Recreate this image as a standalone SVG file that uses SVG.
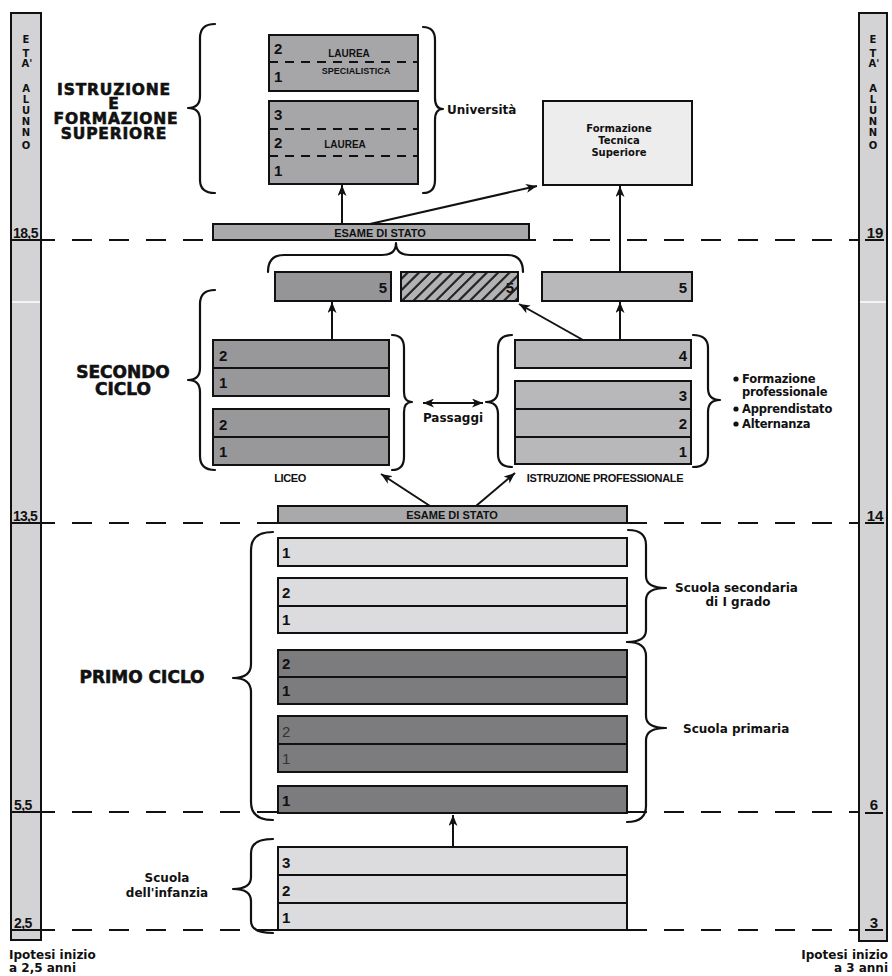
<svg xmlns="http://www.w3.org/2000/svg" width="892" height="976" viewBox="0 0 892 976">
<defs>
<style>
.ax{fill:#d3d3d5;stroke:#111;stroke-width:2}
.bx{stroke:#111;stroke-width:2}
.dv{stroke:#111;stroke-width:2;fill:none}
.dd{stroke:#111;stroke-width:2;stroke-dasharray:9 7;fill:none}
.dash{stroke:#111;stroke-width:2;stroke-dasharray:20 17;stroke-dashoffset:6;fill:none}
.br{fill:none;stroke:#111;stroke-width:2.2;stroke-linecap:round;stroke-linejoin:round}
.ar{stroke:#111;stroke-width:2;fill:none}
.t{font-family:"DejaVu Sans",sans-serif;font-weight:bold;fill:#111}
.c{font-family:"Liberation Sans",Arial,sans-serif;font-weight:bold;fill:#111}
.n{font-family:"Liberation Sans",Arial,sans-serif;font-weight:bold;font-size:15px;fill:#111}
.h{font-family:"DejaVu Sans",sans-serif;font-weight:bold;font-size:17px;fill:#111;stroke:#111;stroke-width:0.6;text-anchor:middle}
.hs{font-family:"DejaVu Sans",sans-serif;font-weight:bold;font-size:15.5px;fill:#111;stroke:#111;stroke-width:0.6;text-anchor:middle;letter-spacing:0.8px}
.v{font-family:"DejaVu Sans",sans-serif;font-weight:bold;font-size:10px;fill:#111;text-anchor:middle}
.m{text-anchor:middle}
.e{text-anchor:end}
.laurea{fill:#a6a6a8}
.fts{fill:#ededee}
.esame{fill:#a9a9ab}
.liceo{fill:#98989b}
.prof{fill:#b8b8ba}
.light{fill:#dcdcde}
.dark{fill:#7c7c7f}
</style>
<marker id="ah" viewBox="0 0 11 9" refX="11" refY="4.5" markerWidth="11" markerHeight="9" markerUnits="userSpaceOnUse" orient="auto-start-reverse"><path d="M0,0 L11,4.5 L0,9 L3,4.5 z" fill="#111"/></marker>
<pattern id="hatch" patternUnits="userSpaceOnUse" width="8" height="8" patternTransform="rotate(45)"><rect width="8" height="8" fill="#b2b2b4"/><line x1="1" y1="0" x2="1" y2="8" stroke="#222" stroke-width="1.8"/></pattern>
<pattern id="hatchL" patternUnits="userSpaceOnUse" width="8" height="8" patternTransform="rotate(45)"><line x1="1" y1="0" x2="1" y2="8" stroke="#222" stroke-width="1.8"/></pattern>
</defs>
<rect width="892" height="976" fill="#fff"/>

<g id="age-lines">
<path class="dash" d="M41,240 H859"/>
<path class="dash" d="M41,523 H859"/>
<path class="dash" d="M41,812 H859"/>
<path class="dash" d="M41,930 H859"/>
</g>

<g id="axis-left">
<rect class="ax" x="11" y="13" width="30" height="927"/>
<line x1="12" y1="302" x2="40" y2="302" stroke="#fff" stroke-width="1.5"/>
<text class="v" x="26" y="43">E</text>
<text class="v" x="26" y="57">T</text>
<text class="v" x="27" y="67">A'</text>
<text class="v" x="26" y="92">A</text>
<text class="v" x="26" y="103">L</text>
<text class="v" x="26" y="114">U</text>
<text class="v" x="26" y="125">N</text>
<text class="v" x="26" y="136">N</text>
<text class="v" x="26" y="149">O</text>
<text class="c" x="13" y="238" font-size="14" letter-spacing="-0.6">18,5</text>
<text class="c" x="13" y="521" font-size="14" letter-spacing="-0.8">13,5</text>
<text class="c" x="14" y="810" font-size="14" letter-spacing="-0.6">5,5</text>
<text class="c" x="14" y="928" font-size="14" letter-spacing="-0.6">2,5</text>
<path class="dv" d="M12,240 H40 M12,523 H40 M12,812 H40 M12,930 H40"/>
<text class="t" x="9" y="959" font-size="12">Ipotesi inizio</text>
<text class="t" x="9" y="972" font-size="12">a 2,5 anni</text>
</g>

<g id="axis-right">
<rect class="ax" x="859" y="13" width="28" height="928"/>
<line x1="860" y1="302" x2="886" y2="302" stroke="#fff" stroke-width="1.5"/>
<text class="v" x="873" y="43">E</text>
<text class="v" x="873" y="57">T</text>
<text class="v" x="874" y="67">A'</text>
<text class="v" x="873" y="92">A</text>
<text class="v" x="873" y="103">L</text>
<text class="v" x="873" y="114">U</text>
<text class="v" x="873" y="125">N</text>
<text class="v" x="873" y="136">N</text>
<text class="v" x="873" y="149">O</text>
<text class="c m" x="875" y="238" font-size="15">19</text>
<text class="c m" x="875" y="521" font-size="15">14</text>
<text class="c m" x="874" y="810" font-size="15">6</text>
<text class="c m" x="874" y="928" font-size="15">3</text>
<path class="dv" d="M865,240 H884 M865,523 H884 M865,813 H883 M865,930 H883"/>
<text class="t e" x="888" y="959" font-size="12">Ipotesi inizio</text>
<text class="t e" x="888" y="972" font-size="12">a 3 anni</text>
</g>

<g id="istruzione-superiore">
<text class="hs" x="114" y="95">ISTRUZIONE</text>
<text class="hs" x="114" y="109">E</text>
<text class="hs" x="116" y="124">FORMAZIONE</text>
<text class="hs" x="114" y="139">SUPERIORE</text>
<path class="br" d="M215,24 Q200,24 200,38 L200,96 Q200,108 188,108 Q200,108 200,120 L200,180 Q200,193 215,193"/>
</g>

<g id="laurea-specialistica">
<rect class="bx laurea" x="269" y="35" width="149" height="56"/>
<path class="dd" d="M269,62 H418"/>
<text class="n" x="274" y="54" font-size="14">2</text>
<text class="n" x="274" y="82" font-size="14">1</text>
<text class="c m" x="349" y="57" font-size="10">LAUREA</text>
<text class="c m" x="356" y="74" font-size="9">SPECIALISTICA</text>
</g>

<g id="laurea">
<rect class="bx laurea" x="269" y="101" width="149" height="83"/>
<path class="dd" d="M269,129 H418 M269,156 H418"/>
<text class="n" x="274" y="120" font-size="14">3</text>
<text class="n" x="274" y="148" font-size="14">2</text>
<text class="n" x="274" y="176" font-size="14">1</text>
<text class="c m" x="345" y="148" font-size="10">LAUREA</text>
</g>

<g id="universita">
<path class="br" d="M423,27 Q435,27 435,40 L435,98 Q435,109 443,109 Q435,109 435,120 L435,180 Q435,193 423,193"/>
<text class="t" x="447" y="114" font-size="12">Università</text>
</g>

<g id="formazione-tecnica-superiore">
<rect class="bx fts" x="543" y="101" width="149" height="84"/>
<text class="t m" x="619" y="132" font-size="10">Formazione</text>
<text class="t m" x="619" y="144" font-size="10">Tecnica</text>
<text class="t m" x="619" y="156" font-size="10">Superiore</text>
</g>

<g id="esame-stato-2">
<rect class="bx esame" x="213" y="224" width="316" height="16"/>
<text class="c m" x="380" y="237" font-size="11">ESAME DI STATO</text>
<path class="br" d="M268,272 Q268,255 284,255 L382,255 Q396,255 396,243 Q396,255 410,255 L507,255 Q523,255 523,272"/>
</g>

<g id="anno5-liceo">
<rect class="bx" fill="#959598" x="275" y="272" width="116" height="29"/>
<text class="n e" x="387" y="293">5</text>
</g>

<g id="anno5-hatched">
<rect class="bx" fill="url(#hatch)" x="401" y="272" width="117" height="29"/>
<text class="n e" x="514" y="293" fill="#222">5</text>
<rect x="402" y="273" width="115" height="27" fill="url(#hatchL)" opacity="0.8"/>
</g>

<g id="anno5-prof">
<rect class="bx prof" x="542" y="272" width="150" height="29"/>
<text class="n e" x="687" y="293">5</text>
</g>

<g id="secondo-ciclo">
<text class="h" x="123" y="378">SECONDO</text>
<text class="h" x="123" y="395">CICLO</text>
<path class="br" d="M215,290 Q200,290 200,304 L200,368 Q200,380 188,380 Q200,380 200,392 L200,456 Q200,470 215,470"/>
</g>

<g id="liceo">
<rect class="bx liceo" x="213" y="340" width="176" height="56"/>
<path class="dv" d="M213,368 H389"/>
<rect class="bx liceo" x="213" y="409" width="176" height="56"/>
<path class="dv" d="M213,437 H389"/>
<text class="n" x="219" y="361">2</text>
<text class="n" x="219" y="388">1</text>
<text class="n" x="219" y="430">2</text>
<text class="n" x="219" y="457">1</text>
<path class="br" d="M392,335 Q404,335 404,348 L404,392 Q404,402 412,402 Q404,402 404,412 L404,457 Q404,470 392,470"/>
<text class="c m" x="290" y="482" font-size="11" letter-spacing="-0.4">LICEO</text>
</g>

<g id="passaggi">
<text class="t m" x="453" y="422" font-size="12">Passaggi</text>
</g>

<g id="istruzione-professionale">
<rect class="bx prof" x="515" y="340" width="176" height="28"/>
<rect class="bx prof" x="515" y="381" width="176" height="83"/>
<path class="dv" d="M515,409 H691 M515,437 H691"/>
<text class="n e" x="687" y="361">4</text>
<text class="n e" x="687" y="401">3</text>
<text class="n e" x="687" y="429">2</text>
<text class="n e" x="687" y="457">1</text>
<path class="br" d="M512,335 Q498,335 498,348 L498,390 Q498,402 486,402 Q498,402 498,414 L498,454 Q498,467 512,467"/>
<path class="br" d="M693,335 Q708,335 708,348 L708,388 Q708,400 720,400 Q708,400 708,412 L708,454 Q708,467 693,467"/>
<text class="c m" x="605" y="482" font-size="11" letter-spacing="-0.3">ISTRUZIONE PROFESSIONALE</text>
<circle cx="736" cy="379" r="2.6" fill="#111"/>
<circle cx="736" cy="409" r="2.6" fill="#111"/>
<circle cx="736" cy="424" r="2.6" fill="#111"/>
<text class="t" x="742" y="383" font-size="11.5" letter-spacing="-0.2">Formazione</text>
<text class="t" x="742" y="396" font-size="11.5" letter-spacing="-0.2">professionale</text>
<text class="t" x="742" y="413" font-size="11.5" letter-spacing="-0.2">Apprendistato</text>
<text class="t" x="742" y="428" font-size="11.5" letter-spacing="-0.2">Alternanza</text>
</g>

<g id="esame-stato-1">
<rect class="bx esame" x="278" y="506" width="349" height="17"/>
<text class="c m" x="452" y="519" font-size="11">ESAME DI STATO</text>
</g>

<g id="primo-ciclo">
<text class="h" x="142" y="683">PRIMO CICLO</text>
<path class="br" d="M273,532 Q251,532 251,550 L251,664 Q251,678 233,678 Q251,678 251,692 L251,802 Q251,820 273,820"/>
</g>

<g id="scuola-secondaria-1-grado">
<rect class="bx light" x="278" y="538" width="349" height="28"/>
<rect class="bx light" x="278" y="578" width="349" height="55"/>
<path class="dv" d="M278,606 H627"/>
<text class="n" x="282" y="558">1</text>
<text class="n" x="282" y="598">2</text>
<text class="n" x="282" y="625">1</text>
<path class="br" d="M628,530 Q646,530 646,545 L646,576 Q646,588 666,588 Q646,588 646,600 L646,630 Q646,642 627,642"/>
<text class="t" x="675" y="592" font-size="12">Scuola secondaria</text>
<text class="t m" x="738" y="606" font-size="12">di I grado</text>
</g>

<g id="scuola-primaria">
<rect class="bx dark" x="278" y="650" width="349" height="54"/>
<path class="dv" d="M278,677 H627"/>
<rect class="bx dark" x="278" y="716" width="349" height="56"/>
<path class="dv" d="M278,744 H627"/>
<rect class="bx dark" x="278" y="786" width="349" height="27"/>
<text class="n" x="282" y="669">2</text>
<text class="n" x="282" y="696">1</text>
<text x="282" y="737" font-family="Liberation Sans, Arial, sans-serif" font-size="15" fill="#333">2</text>
<text x="282" y="764" font-family="Liberation Sans, Arial, sans-serif" font-size="15" fill="#333">1</text>
<text class="n" x="282" y="806">1</text>
<path class="br" d="M627,642 Q646,642 646,656 L646,716 Q646,728 666,728 Q646,728 646,740 L646,806 Q646,822 627,822"/>
<text class="t" x="683" y="733" font-size="12">Scuola primaria</text>
</g>

<g id="scuola-infanzia">
<rect class="bx light" x="278" y="847" width="349" height="83"/>
<path class="dv" d="M278,875 H627 M278,903 H627"/>
<text class="n" x="282" y="868">3</text>
<text class="n" x="282" y="896">2</text>
<text class="n" x="282" y="923">1</text>
<path class="br" d="M273,839 Q251,839 251,853 L251,877 Q251,889 233,889 Q251,889 251,901 L251,921 Q251,933 273,933"/>
<text class="t m" x="167" y="882" font-size="12">Scuola</text>
<text class="t m" x="167" y="897" font-size="12">dell'infanzia</text>
</g>

<g id="connectors">
<path class="ar" marker-end="url(#ah)" d="M342,224 L342,185"/>
<path class="ar" marker-end="url(#ah)" d="M370,224 L537,186"/>
<path class="ar" marker-end="url(#ah)" d="M620,272 L620,186"/>
<path class="ar" marker-end="url(#ah)" d="M332,340 L332,302"/>
<path class="ar" marker-end="url(#ah)" d="M583,340 L519,304"/>
<path class="ar" marker-end="url(#ah)" d="M620,340 L620,302"/>
<path class="ar" marker-start="url(#ah)" marker-end="url(#ah)" d="M423,403 L483,403"/>
<path class="ar" marker-end="url(#ah)" d="M430,506 L381,474"/>
<path class="ar" marker-end="url(#ah)" d="M476,506 L515,473"/>
<path class="ar" marker-end="url(#ah)" d="M453,847 L453,815"/>
</g>
</svg>
